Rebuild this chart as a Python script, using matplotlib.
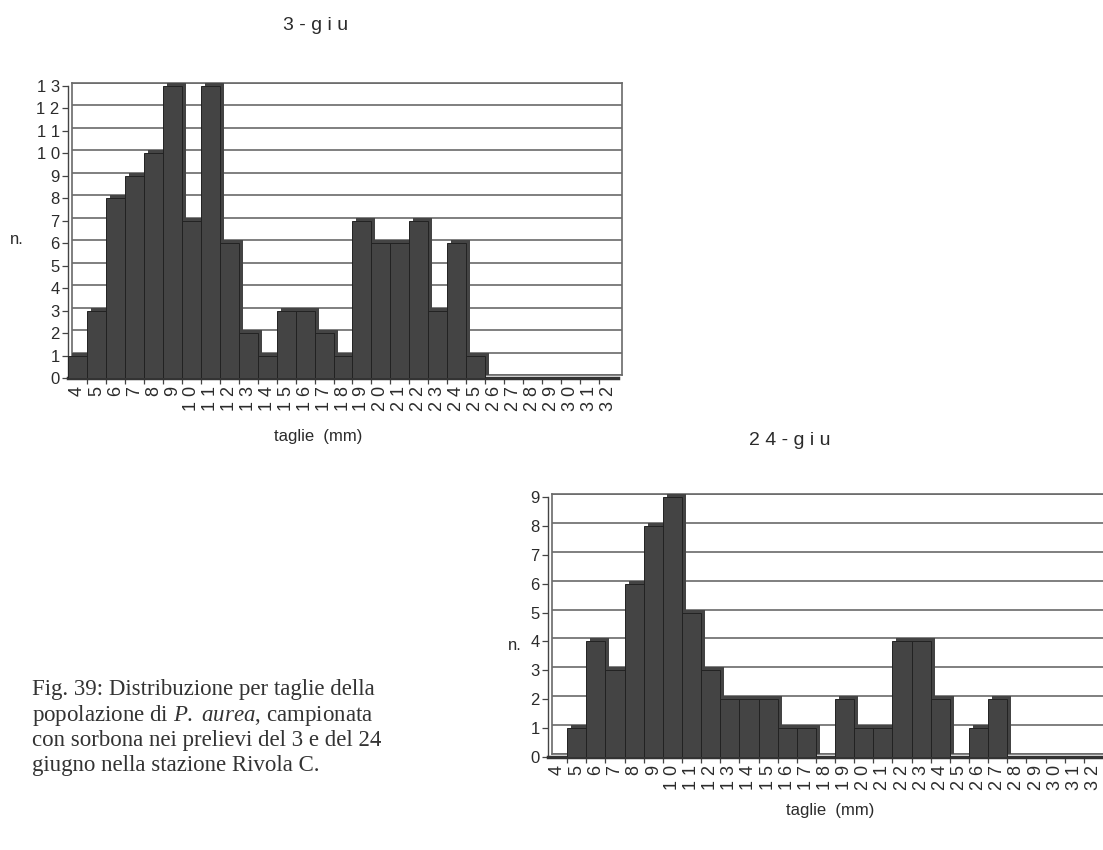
import numpy as np
import matplotlib.pyplot as plt

plt.rcParams['font.family'] = ['Liberation Sans', 'DejaVu Sans']
plt.rcParams['mathtext.fontset'] = 'custom'
plt.rcParams['mathtext.rm'] = 'Liberation Serif'
plt.rcParams['mathtext.it'] = 'Liberation Serif:italic'

# taglie in mm e numero di individui per prelievo
taglie = list(range(4, 33))
n_3giu = [1, 3, 8, 9, 10, 13, 7, 13, 6, 2,
          1, 3, 3, 2, 1, 7, 6, 6, 7, 3,
          6, 1, 0, 0, 0, 0, 0, 0, 0]
n_24giu = [0, 1, 4, 3, 6, 8, 9, 5, 3, 2,
           2, 2, 1, 1, 0, 2, 1, 1, 4, 4,
           2, 0, 1, 2, 0, 0, 0, 0, 0]
titoli = ["3-giu", "24-giu"]
didascalia = [
    "Fig. 39: Distribuzione per taglie della",
    r"popolazione di $\mathit{P.\ aurea}$, campionata",
    "con sorbona nei prelievi del 3 e del 24",
    "giugno nella stazione Rivola C.",
]

W, H = 1103, 850
BARRE = '#444444'
BORDO = '#222222'
TESTO = '#2b2b2b'
GRIGLIA = '#6a6a6a'

fig = plt.figure(figsize=(W / 100, H / 100), dpi=100)


def spaziato(s):
    return " ".join(str(s))


def istogramma(l, t, r, b, valori, titolo, ymax, pos_titolo, pos_xlabel, pos_n):
    """Istogramma in stile Excel 3D: parete di fondo spostata di qualche pixel."""
    dx, dy = 4, 3
    x = np.arange(len(taglie))

    # parete di fondo con la griglia (e faccia posteriore delle barre)
    fondo = fig.add_axes([(l + dx) / W, 1 - (b - dy) / H, (r - l) / W, (b - t) / H])
    fondo.set_xlim(-0.5, len(taglie) - 0.5)
    fondo.set_ylim(0, ymax)
    fondo.set_yticks(range(ymax + 1))
    fondo.grid(axis='y', color=GRIGLIA, lw=1.2)
    fondo.set_axisbelow(True)
    fondo.bar(x, valori, width=1.0, color=BARRE, linewidth=0, zorder=3)
    fondo.tick_params(left=False, bottom=False, labelleft=False, labelbottom=False)
    fondo.set_xticks([])
    for s in fondo.spines.values():
        s.set_color(GRIGLIA)
        s.set_linewidth(1.2)

    # piano frontale con barre e assi
    ax = fig.add_axes([l / W, 1 - b / H, (r - l) / W, (b - t) / H])
    ax.set_facecolor('none')
    ax.bar(x, valori, width=1.0, color=BARRE, edgecolor=BORDO, linewidth=0.7, zorder=3)
    ax.set_xlim(-0.5, len(taglie) - 0.5)
    ax.set_ylim(0, ymax)
    ax.spines['top'].set_visible(False)
    ax.spines['right'].set_visible(False)
    ax.spines['left'].set_color('#444444')
    ax.spines['left'].set_linewidth(1.0)
    ax.spines['bottom'].set_color('#333333')
    ax.spines['bottom'].set_linewidth(2.5)

    ax.set_yticks(range(ymax + 1))
    ax.set_yticklabels([spaziato(v) for v in range(ymax + 1)], fontsize=12, color=TESTO)
    ax.tick_params(axis='y', length=4, width=0.9, color='#444444', pad=2)

    ax.set_xticks(x)
    ax.set_xticklabels([spaziato(v) for v in taglie], rotation=90, fontsize=13, color=TESTO)
    ax.set_xticks(x[:-1] + 0.5, minor=True)
    ax.tick_params(axis='x', which='major', length=0, pad=6)
    ax.tick_params(axis='x', which='minor', length=4, width=0.9, color='#444444')

    fig.text(pos_titolo[0] / W, 1 - pos_titolo[1] / H, spaziato(titolo),
             fontsize=14, color=TESTO, ha='center', va='center')
    fig.text(pos_xlabel[0] / W, 1 - pos_xlabel[1] / H, "taglie  (mm)",
             fontsize=12, color=TESTO, ha='center', va='center')
    fig.text(pos_n[0] / W, 1 - pos_n[1] / H, "n.",
             fontsize=12, color=TESTO, ha='center', va='center')
    return ax


istogramma(68, 86, 618, 378, n_3giu, titoli[0], 13, (316, 26), (318, 436), (17, 240))
istogramma(548, 497, 1103, 757, n_24giu, titoli[1], 9, (790, 440), (830, 810), (515, 645))

# didascalia della figura
for i, riga in enumerate(didascalia):
    fig.text(32 / W, 1 - (690 + i * 25.3) / H, riga, family='Liberation Serif',
             fontsize=16.5, color='#333333', ha='left', va='center')

fig.savefig("out.png", dpi=100)
